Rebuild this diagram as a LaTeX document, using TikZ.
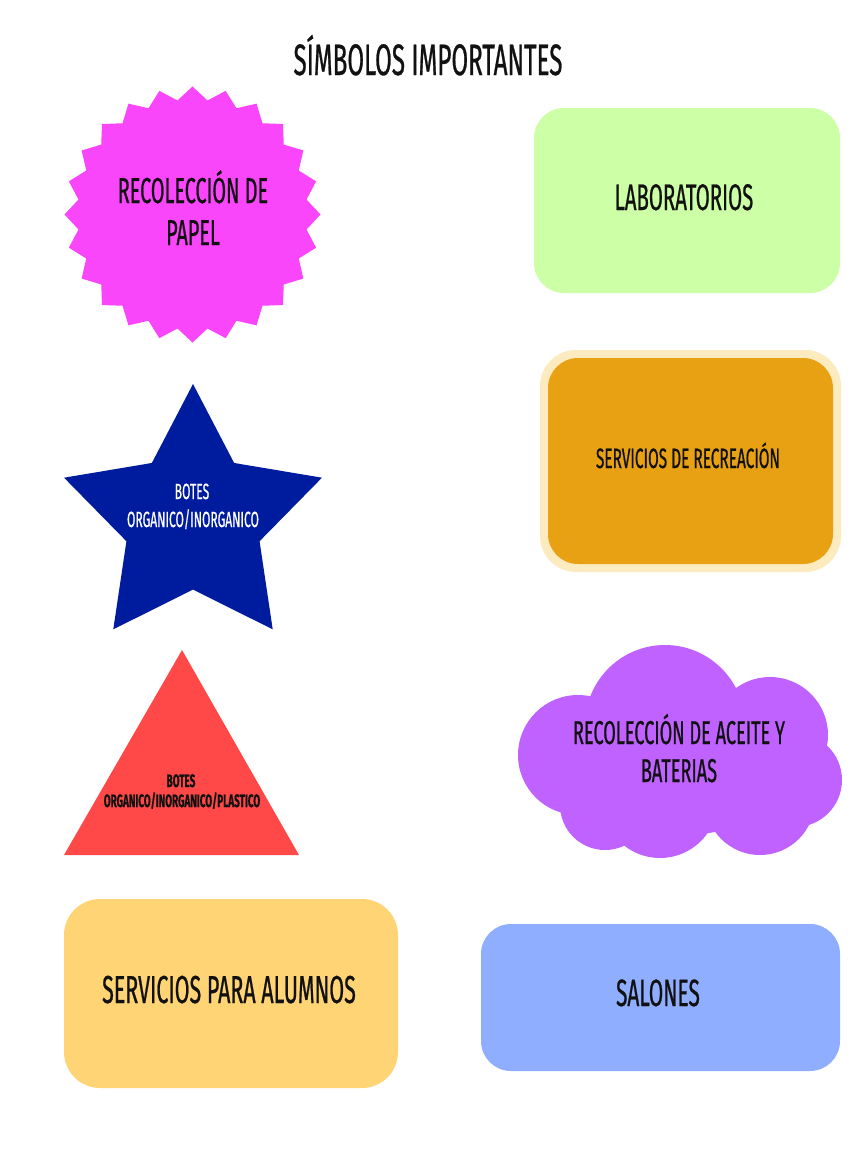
\documentclass[tikz,border=0pt]{standalone}
\usepackage{fontspec}
\setmainfont{Fira Sans}[FakeStretch=0.55, FakeBold=0.6]
\begin{document}
\begin{tikzpicture}[x=1pt,y=-1pt]
  \definecolor{burstpink}{RGB}{250,70,250}
  \definecolor{labgreen}{RGB}{204,255,166}
  \definecolor{recorange}{RGB}{232,161,18}
  \definecolor{recrim}{RGB}{253,235,192}
  \definecolor{starnavy}{RGB}{0,28,158}
  \definecolor{trired}{RGB}{255,72,72}
  \definecolor{cloudviolet}{RGB}{192,98,255}
  \definecolor{alumyellow}{RGB}{255,212,117}
  \definecolor{salblue}{RGB}{143,174,255}
  \definecolor{ink}{RGB}{17,17,17}
  \tikzset{
    lbl/.style={inner sep=0pt, anchor=base, text=ink},
  }
  \useasboundingbox[fill=white] (0,0) rectangle (864,1152);

  % title
  \node[lbl, font=\fontsize{44}{50}\selectfont] (title) at (428,75) {SÍMBOLOS IMPORTANTES};

  % 24-point burst
  \fill[burstpink] plot[samples at={0,...,47}, variable=\k]
    ({192.5+(mod(\k,2)==0 ? 128 : 115)*sin(7.5*\k)},
     {214.5-(mod(\k,2)==0 ? 128 : 115)*cos(7.5*\k)}) -- cycle;
  \node[lbl, font=\fontsize{36}{40}\selectfont] (papel1) at (193,203) {RECOLECCIÓN DE};
  \node[lbl, font=\fontsize{36}{40}\selectfont] (papel2) at (193,245) {PAPEL};

  % laboratories
  \fill[labgreen, rounded corners=30pt] (534,108) rectangle (840,293);
  \node[lbl, font=\fontsize{37}{40}\selectfont] (lab) at (684,210) {LABORATORIOS};

  % recreation services
  \fill[recrim, rounded corners=36pt] (540,350) rectangle (841,572);
  \fill[recorange, rounded corners=30pt] (548,358) rectangle (833,564);
  \node[lbl, font=\fontsize{28}{32}\selectfont] (recre) at (688,468) {SERVICIOS DE RECREACIÓN};

  % five-point star
  \fill[starnavy] plot[samples at={0,...,9}, variable=\k]
    ({193+(mod(\k,2)==0 ? 135.6 : 70)*sin(36*\k)},
     {519.6-(mod(\k,2)==0 ? 135.6 : 70)*cos(36*\k)}) -- cycle;
  \node[lbl, text=white, font=\fontsize{22}{24}\selectfont] (star1) at (192,499) {BOTES};
  \node[lbl, text=white, font=\fontsize{22}{24}\selectfont] (star2) at (193,527) {ORGANICO/INORGANICO};

  % triangle
  \fill[trired] (182,650) -- (299,855) -- (64,855) -- cycle;
  \node[lbl, font=\bfseries\fontsize{18}{20}\selectfont] (tri1) at (181,787) {BOTES};
  \node[lbl, font=\bfseries\fontsize{18}{20}\selectfont] (tri2) at (182,807) {ORGANICO/INORGANICO/PLASTICO};

  % cloud
  \begin{scope}[cloudviolet]
    \fill (578,755) circle[radius=60];
    \fill (665,725) circle[radius=80];
    \fill (770,735) circle[radius=58];
    \fill (795,780) circle[radius=47];
    \fill (760,800) circle[radius=55];
    \fill (660,800) circle[radius=58];
    \fill (605,805) circle[radius=45];
    \fill (680,765) ellipse[x radius=120, y radius=70];
  \end{scope}
  \node[lbl, font=\fontsize{33}{36}\selectfont] (oil1) at (679,744) {RECOLECCIÓN DE ACEITE Y};
  \node[lbl, font=\fontsize{33}{36}\selectfont] (oil2) at (679,782) {BATERIAS};

  % student services
  \fill[alumyellow, rounded corners=36pt] (64,899) rectangle (398,1088);
  \node[lbl, font=\fontsize{39}{42}\selectfont] (alum) at (229,1003) {SERVICIOS PARA ALUMNOS};

  % classrooms
  \fill[salblue, rounded corners=30pt] (481,924) rectangle (840,1071);
  \node[lbl, font=\fontsize{38}{42}\selectfont] (sal) at (658,1006) {SALONES};
\end{tikzpicture}
\end{document}
